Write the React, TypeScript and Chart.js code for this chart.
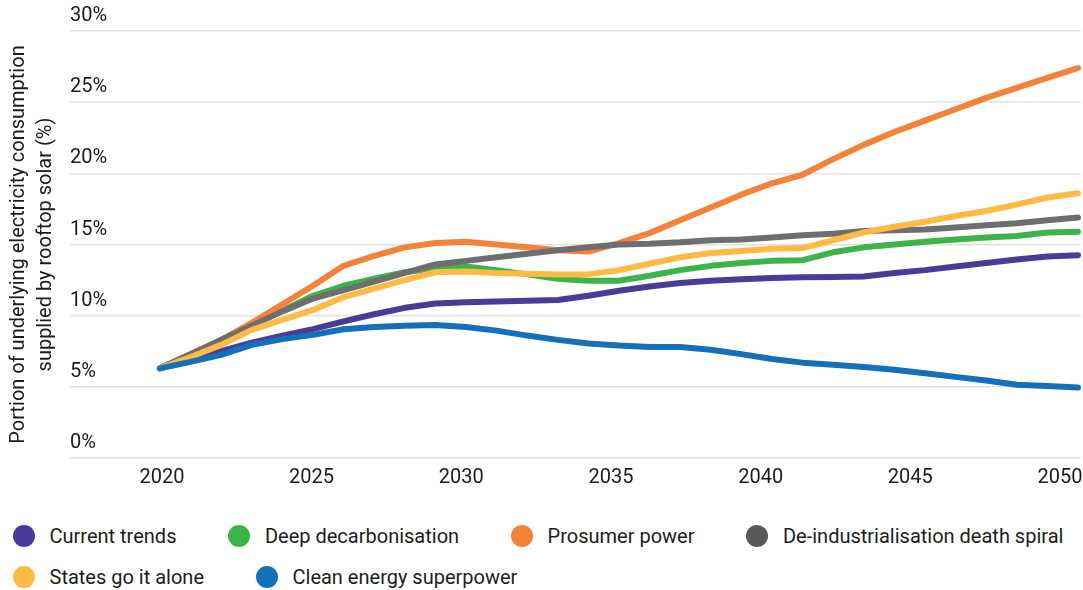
import React, { useEffect, useRef } from "react";
import { Chart, registerables } from "chart.js";

Chart.register(...registerables);

// Years on the horizontal axis (one point per year)
const years = [
  2020, 2021, 2022, 2023, 2024, 2025, 2026, 2027, 2028, 2029, 2030,
  2031, 2032, 2033, 2034, 2035, 2036, 2037, 2038, 2039, 2040,
  2041, 2042, 2043, 2044, 2045, 2046, 2047, 2048, 2049, 2050,
];

// Share of underlying consumption met by rooftop solar, % per scenario
const currentTrends = [
  6.3, 6.9, 7.5, 8.1, 8.6, 9.05, 9.6, 10.1, 10.55, 10.85, 10.95,
  11.0, 11.05, 11.1, 11.4, 11.75, 12.05, 12.3, 12.45, 12.55, 12.65,
  12.7, 12.72, 12.75, 13.0, 13.2, 13.45, 13.7, 13.95, 14.15, 14.25,
];
const deepDecarbonisation = [
  6.3, 7.3, 8.3, 9.3, 10.35, 11.4, 12.1, 12.6, 13.05, 13.35, 13.45,
  13.2, 12.9, 12.6, 12.45, 12.45, 12.8, 13.2, 13.5, 13.7, 13.85,
  13.9, 14.45, 14.8, 15.0, 15.2, 15.35, 15.5, 15.6, 15.85, 15.9,
];
const prosumerPower = [
  6.3, 7.3, 8.3, 9.5, 10.8, 12.1, 13.5, 14.2, 14.8, 15.1, 15.2,
  15.0, 14.8, 14.6, 14.5, 15.1, 15.8, 16.7, 17.6, 18.5, 19.3,
  19.9, 21.0, 22.0, 22.9, 23.7, 24.5, 25.3, 26.0, 26.7, 27.4,
];
const deindustrialisation = [
  6.3, 7.3, 8.3, 9.3, 10.3, 11.2, 11.8, 12.4, 13.0, 13.6, 13.85,
  14.1, 14.35, 14.6, 14.8, 15.0, 15.05, 15.15, 15.3, 15.35, 15.5,
  15.65, 15.75, 15.95, 16.0, 16.05, 16.2, 16.35, 16.5, 16.7, 16.9,
];
const statesGoItAlone = [
  6.3, 7.1, 7.95, 9.0, 9.7, 10.4, 11.3, 11.9, 12.5, 13.05, 13.1,
  13.0, 12.95, 12.9, 12.9, 13.2, 13.65, 14.1, 14.4, 14.55, 14.7,
  14.75, 15.3, 15.85, 16.25, 16.6, 17.0, 17.35, 17.8, 18.3, 18.6,
];
const cleanEnergySuperpower = [
  6.3, 6.75, 7.25, 7.95, 8.35, 8.65, 9.05, 9.2, 9.3, 9.35, 9.2,
  8.95, 8.6, 8.3, 8.05, 7.9, 7.8, 7.8, 7.6, 7.3, 6.95,
  6.7, 6.55, 6.4, 6.2, 5.95, 5.7, 5.45, 5.15, 5.05, 4.95,
];

// Axis labels
const xTickYears = [2020, 2025, 2030, 2035, 2040, 2045, 2050];
const yTickValues = [0, 5, 10, 15, 20, 25, 30];
const yTitle = [
  "Portion of underlying electricity consumption",
  "supplied by rooftop solar (%)",
];

const scenarioNames = [
  "Current trends",
  "Deep decarbonisation",
  "Prosumer power",
  "De-industrialisation death spiral",
  "States go it alone",
  "Clean energy superpower",
];
const scenarioValues = [
  currentTrends,
  deepDecarbonisation,
  prosumerPower,
  deindustrialisation,
  statesGoItAlone,
  cleanEnergySuperpower,
];
const lineColors = ["#4b3b98", "#3bb54a", "#f58238", "#6e6e71", "#fdbb43", "#1371b9"];
const legendColors = ["#4b3b98", "#3bb54a", "#f58238", "#58595b", "#fdbb43", "#1371b9"];

const FONT = "Roboto, 'Noto Sans', sans-serif";
const TEXT = "#1c1c1c";

function LineChart() {
  const ref = useRef<HTMLCanvasElement | null>(null);

  useEffect(() => {
    if (!ref.current) return;
    const chart = new Chart(ref.current, {
      type: "line",
      data: {
        datasets: scenarioNames.map((name, i) => ({
          label: name,
          data: years.map((yr, j) => ({ x: yr, y: scenarioValues[i][j] })),
          borderColor: lineColors[i],
          backgroundColor: lineColors[i],
          borderWidth: 6,
          borderCapStyle: "round" as const,
          borderJoinStyle: "round" as const,
          pointRadius: 0,
          pointHoverRadius: 0,
          tension: 0,
          order: scenarioNames.length - i,
          xAxisID: "x",
          yAxisID: "y",
        })),
      },
      options: {
        animation: false,
        responsive: false,
        events: [],
        layout: { padding: { top: 31, right: 2, bottom: 11, left: 0 } },
        plugins: {
          legend: { display: false },
          tooltip: { enabled: false },
        },
        scales: {
          x: {
            type: "linear",
            display: false,
            min: 2017.06,
            max: 2050.1,
          },
          xt: {
            type: "linear",
            position: "bottom",
            min: 2016.93,
            max: 2050.7,
            grid: { display: false },
            border: { display: false },
            afterBuildTicks: (scale: any) => {
              scale.ticks = xTickYears.map((v) => ({ value: v }));
            },
            afterFit: (scale: any) => {
              // keep the plot running to the right edge; labels may overhang
              scale.paddingLeft = 0;
              scale.paddingRight = 0;
            },
            ticks: {
              padding: 0,
              color: TEXT,
              font: { family: FONT, size: 20 },
              maxRotation: 0,
              autoSkip: false,
              callback: (v: any) => String(v),
            },
          },
          y: {
            type: "linear",
            position: "left",
            min: 0,
            max: 30,
            afterBuildTicks: (scale: any) => {
              scale.ticks = yTickValues.map((v) => ({ value: v }));
            },
            grid: {
              color: "#e2e2e2",
              lineWidth: 1.5,
              drawTicks: false,
            },
            border: { display: false },
            ticks: {
              mirror: true,
              padding: 0,
              labelOffset: -15,
              color: TEXT,
              font: { family: FONT, size: 20 },
              callback: (v: any) => `${v}%`,
            },
            title: {
              display: true,
              text: yTitle,
              color: TEXT,
              font: { family: FONT, size: 20, lineHeight: 1.375 },
              padding: { top: 5, bottom: 10 },
            },
          },
        },
      },
    });
    return () => chart.destroy();
  }, []);

  return <canvas ref={ref} width={1083} height={501} style={{ display: "block" }} />;
}

function Legend() {
  return (
    <div
      style={{
        position: "absolute",
        left: 13,
        top: 515,
        width: 1070,
        display: "flex",
        flexWrap: "wrap",
        columnGap: 52,
        rowGap: 0,
        fontFamily: FONT,
        fontSize: 20,
        color: TEXT,
      }}
    >
      {scenarioNames.map((name, i) => (
        <div
          key={name}
          style={{ display: "flex", alignItems: "center", height: 41, whiteSpace: "nowrap" }}
        >
          <span
            style={{
              width: 22,
              height: 22,
              borderRadius: "50%",
              background: legendColors[i],
              marginRight: 14.5,
              flex: "none",
            }}
          />
          <span>{name}</span>
        </div>
      ))}
    </div>
  );
}

export default function App() {
  return (
    <div
      style={{
        position: "fixed",
        left: 0,
        top: 0,
        width: 1083,
        height: 590,
        background: "#ffffff",
        overflow: "hidden",
      }}
    >
      <LineChart />
      <Legend />
    </div>
  );
}
